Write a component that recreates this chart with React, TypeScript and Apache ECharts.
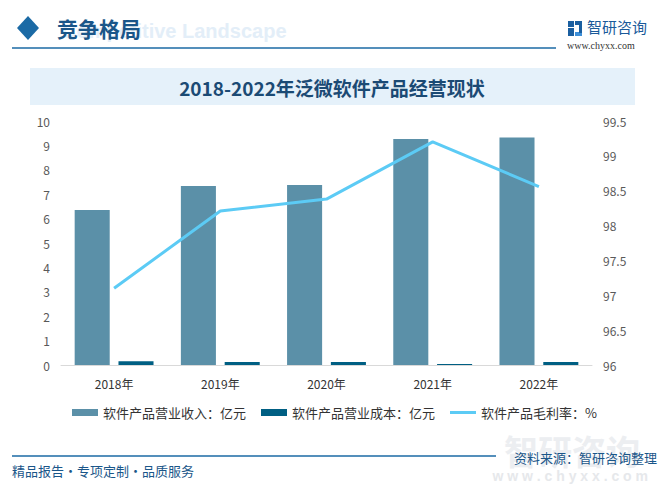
import React, { useEffect, useRef } from "react";
import * as echarts from "echarts";

const years = ["2018年", "2019年", "2020年", "2021年", "2022年"];
const revenue = [6.35, 7.34, 7.38, 9.26, 9.32];
const cost = [0.15, 0.12, 0.12, 0.04, 0.12];
const margin = [97.1, 98.21, 98.38, 99.2, 98.56];
const leftTicks = { min: 0, max: 10, interval: 1 };
const rightTicks = { min: 96, max: 99.5, interval: 0.5 };

const names = ["软件产品营业收入：亿元", "软件产品营业成本：亿元", "软件产品毛利率：%"];

const CJK = '"Noto Sans CJK SC", "Noto Sans", sans-serif';

export default function App() {
  const ref = useRef<HTMLDivElement>(null);
  useEffect(() => {
    if (!ref.current) return;
    const chart = echarts.init(ref.current, null, { renderer: "svg" });
    chart.setOption({
      animation: false,
      backgroundColor: "#ffffff",
      textStyle: { fontFamily: CJK },
      grid: { left: 61, right: 77, top: 121, bottom: 130 },
      legend: {
        bottom: 71,
        left: "center",
        itemWidth: 26,
        itemHeight: 7,
        itemGap: 15,
        textStyle: { color: "#333", fontSize: 13, fontFamily: CJK },
        data: [
          { name: names[0], icon: "rect" },
          { name: names[1], icon: "rect" },
          { name: names[2], icon: "path://M0,0 L26,0 L26,3 L0,3 Z" },
        ],
      },
      xAxis: {
        type: "category",
        data: years,
        axisLine: { lineStyle: { color: "#d9d9d9" } },
        axisTick: { show: false },
        axisLabel: { color: "#333", fontSize: 12, margin: 12, fontFamily: CJK },
      },
      yAxis: [
        {
          type: "value",
          ...leftTicks,
          splitLine: { show: false },
          axisLine: { show: false },
          axisTick: { show: false },
          axisLabel: { color: "#595959", fontSize: 12, margin: 11 },
        },
        {
          type: "value",
          ...rightTicks,
          splitLine: { show: false },
          axisLine: { show: false },
          axisTick: { show: false },
          axisLabel: { color: "#595959", fontSize: 12, margin: 11 },
        },
      ],
      series: [
        {
          name: names[0],
          type: "bar",
          data: revenue,
          barWidth: "33%",
          barGap: "25%",
          itemStyle: { color: "#5b90a8" },
        },
        {
          name: names[1],
          type: "bar",
          data: cost,
          barWidth: "33%",
          barGap: "25%",
          itemStyle: { color: "#005f83" },
        },
        {
          name: names[2],
          type: "line",
          yAxisIndex: 1,
          data: margin,
          symbol: "none",
          lineStyle: { color: "#5ccbf5", width: 3 },
          itemStyle: { color: "#5ccbf5" },
        },
      ],
      graphic: [
        {
          type: "text",
          left: 62,
          top: 21,
          silent: true,
          style: { text: "Competitive Landscape", fill: "#e3eef8", font: "bold 20px Arial, sans-serif" },
        },
        {
          type: "polygon",
          shape: { points: [[28, 16], [39, 28], [28, 40], [17, 28]] },
          style: { fill: "#1b6aa5" },
        },
        {
          type: "text",
          left: 57,
          top: 17,
          style: { text: "竞争格局", fill: "#1a5689", font: `bold 21px ${CJK}` },
        },
        {
          type: "line",
          shape: { x1: 12, y1: 48, x2: 556, y2: 48 },
          style: { stroke: "#1b6aa5", lineWidth: 1.5 },
        },
        { type: "rect", shape: { x: 568, y: 21, width: 6, height: 6 }, style: { fill: "#1b5fa0" } },
        { type: "rect", shape: { x: 568, y: 28, width: 6, height: 8 }, style: { fill: "#1b5fa0" } },
        { type: "rect", shape: { x: 575, y: 21, width: 7, height: 4 }, style: { fill: "#1b5fa0" } },
        { type: "rect", shape: { x: 575, y: 32, width: 7, height: 4 }, style: { fill: "#3d8fd8" } },
        { type: "rect", shape: { x: 579, y: 24, width: 3, height: 9 }, style: { fill: "#1b5fa0" } },
        {
          type: "text",
          left: 587,
          top: 19,
          style: { text: "智研咨询", fill: "#1a5a9a", font: `15px ${CJK}` },
        },
        {
          type: "text",
          left: 567,
          top: 40,
          style: { text: "www.chyxx.com", fill: "#333", font: "10px 'Liberation Serif', serif" },
        },
        {
          type: "rect",
          shape: { x: 30, y: 68, width: 605, height: 37 },
          style: { fill: "#e5f1fa" },
        },
        {
          type: "text",
          x: 332,
          y: 87,
          style: {
            text: "2018-2022年泛微软件产品经营现状",
            fill: "#1b4a74",
            font: `bold 19px ${CJK}`,
            textAlign: "center",
            textVerticalAlign: "middle",
          },
        },
        {
          type: "text",
          x: 640,
          y: 450,
          style: {
            text: "智研咨询",
            fill: "#eceef1",
            font: `bold 34px ${CJK}`,
            textAlign: "right",
            textVerticalAlign: "middle",
          },
        },
        {
          type: "text",
          x: 648,
          y: 476,
          style: {
            text: "w w w . c h y x x . c o m",
            fill: "#e6e8eb",
            font: "bold 14px Arial, sans-serif",
            textAlign: "right",
            textVerticalAlign: "middle",
          },
        },
        {
          type: "line",
          shape: { x1: 12, y1: 456, x2: 496, y2: 456 },
          style: { stroke: "#1b6aa5", lineWidth: 1.5 },
        },
        {
          type: "text",
          left: 12,
          top: 464,
          style: { text: "精品报告·专项定制·品质服务", fill: "#1a5689", font: `13px ${CJK}` },
        },
        {
          type: "text",
          x: 657,
          y: 457,
          style: {
            text: "资料来源：智研咨询整理",
            fill: "#1a5689",
            font: `13px ${CJK}`,
            textAlign: "right",
            textVerticalAlign: "middle",
          },
        },
      ],
    });
    return () => chart.dispose();
  }, []);
  return (
    <div
      ref={ref}
      style={{ position: "fixed", left: 0, top: 0, width: 669, height: 495 }}
    />
  );
}
